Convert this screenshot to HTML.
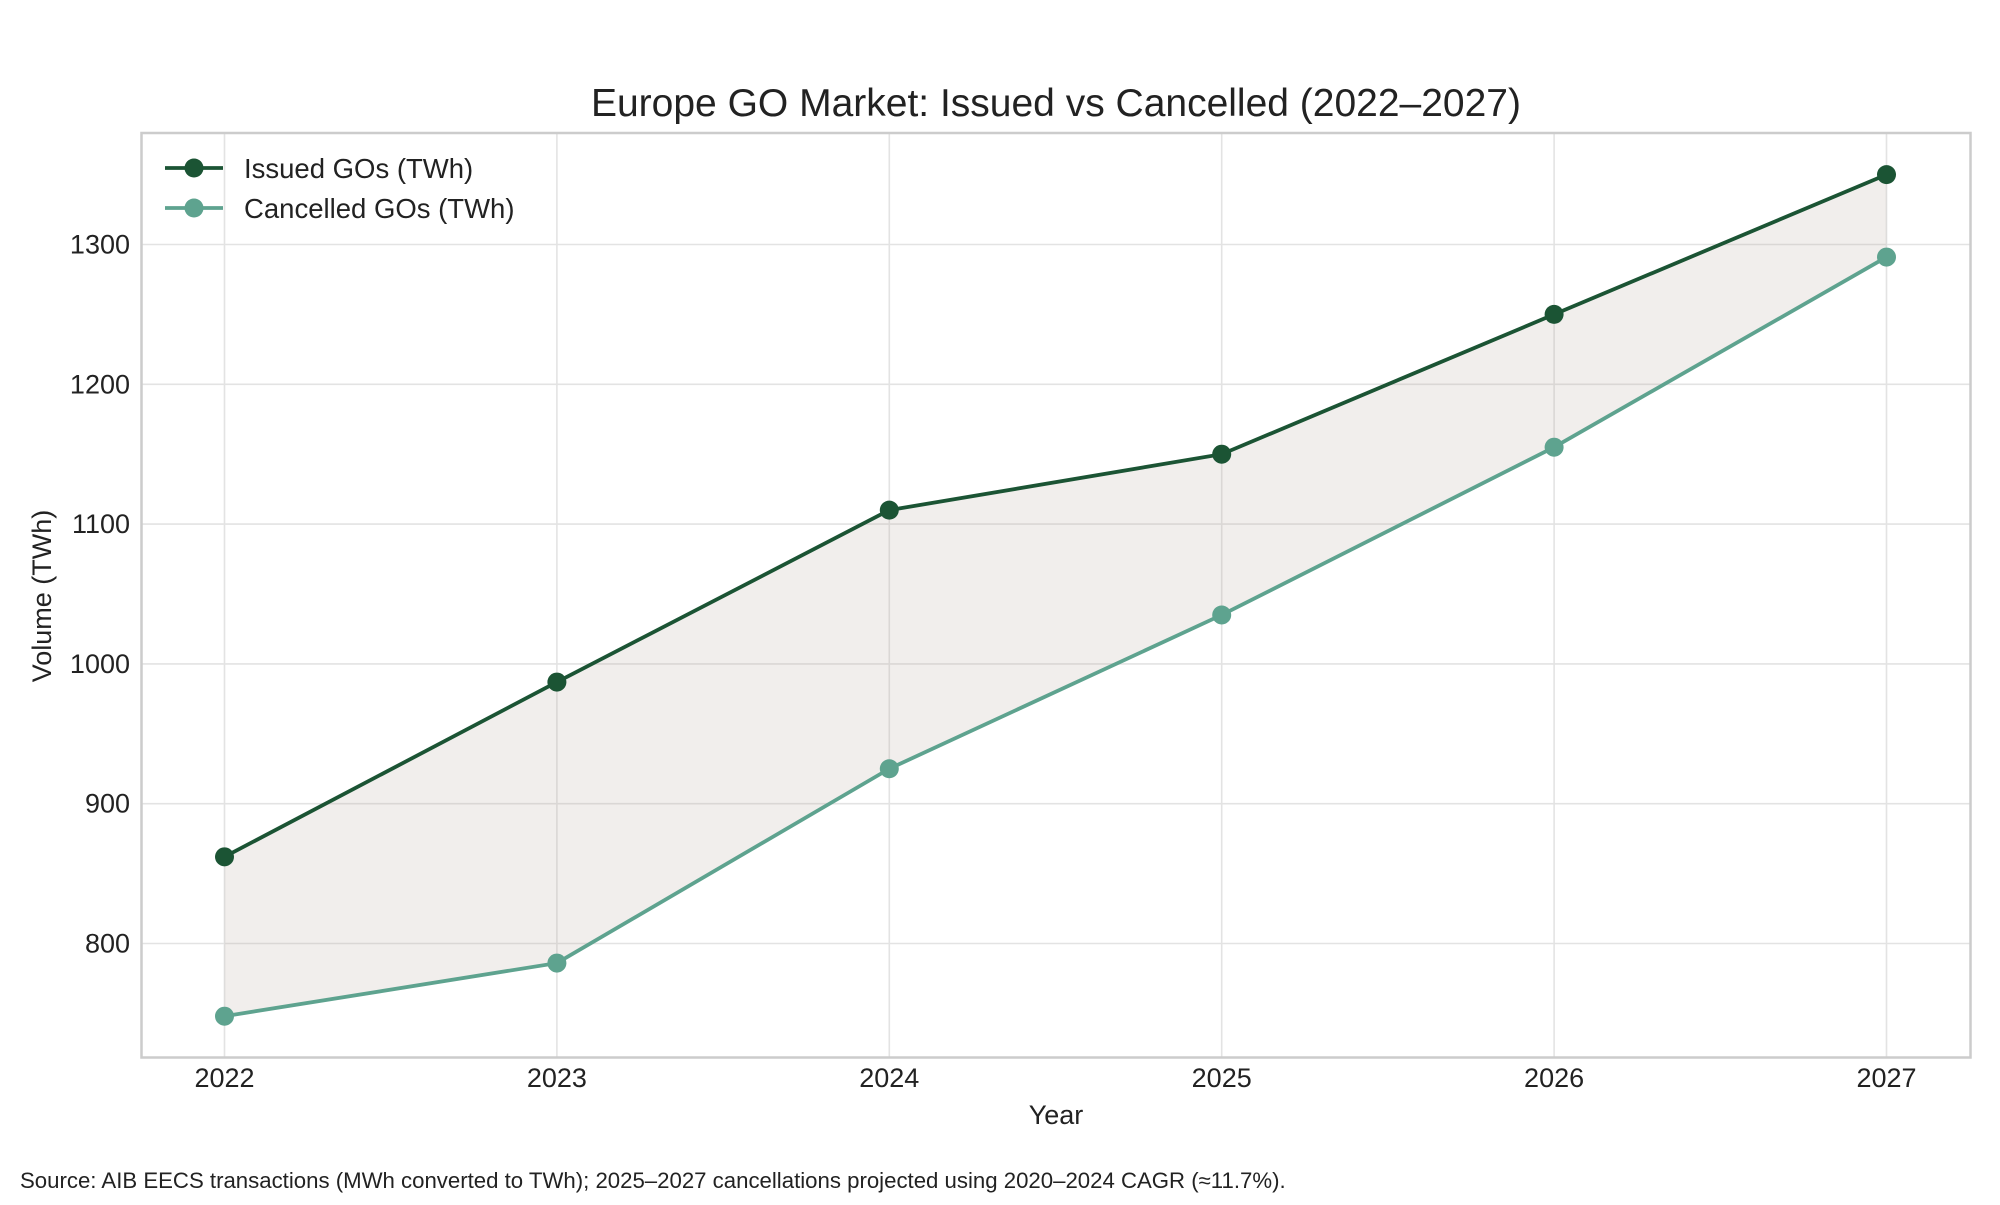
<!DOCTYPE html>
<html><head><meta charset="utf-8"><style>
body{margin:0;background:#fff;}
svg text{font-family:"Liberation Sans",sans-serif;}
</style></head><body>
<svg id="chart" width="2000" height="1200" viewBox="0 0 2000 1200" xmlns="http://www.w3.org/2000/svg">
<rect width="2000" height="1200" fill="#fff"/>
<text x="1056" y="116" font-size="39" text-anchor="middle" fill="#222">Europe GO Market: Issued vs Cancelled (2022–2027)</text>
<g id="grid"></g>
<g id="fill"></g>
<g id="series"></g>
<rect x="141.5" y="133" width="1829" height="924.5" fill="none" stroke="#cccccc" stroke-width="2.5"/>
<g id="ticks"></g>
<text x="1056" y="1124" font-size="27" text-anchor="middle" fill="#222">Year</text>
<text transform="translate(51,596) rotate(-90)" font-size="27" text-anchor="middle" fill="#222">Volume (TWh)</text>
<g>
<line x1="165" y1="168" x2="223" y2="168" stroke="#1b5434" stroke-width="3.8"/>
<circle cx="194" cy="168" r="9.5" fill="#1b5434"/>
<text x="244" y="178" font-size="27.5" fill="#222">Issued GOs (TWh)</text>
<line x1="165" y1="208" x2="223" y2="208" stroke="#5ea38f" stroke-width="3.8"/>
<circle cx="194" cy="208" r="9.5" fill="#5ea38f"/>
<text x="244" y="218" font-size="27.5" fill="#222">Cancelled GOs (TWh)</text>
</g>
<text x="20" y="1188" font-size="22.2" fill="#222">Source: AIB EECS transactions (MWh converted to TWh); 2025–2027 cancellations projected using 2020–2024 CAGR (≈11.7%).</text>
</svg>
<script>
const years=[2022,2023,2024,2025,2026,2027];
const issued=[862,987,1110,1150,1250,1350];
const cancelled=[748,786,925,1035,1155,1291];
const yTicks=[800,900,1000,1100,1200,1300];
const NS="http://www.w3.org/2000/svg";
function x(y){return 224.5+(y-2022)*332.4;}
function yv(v){return 244.5+(1300-v)*1.398;}
function mk(tag,attrs,parent){const e=document.createElementNS(NS,tag);for(const k in attrs)e.setAttribute(k,attrs[k]);document.getElementById(parent).appendChild(e);return e;}
yTicks.forEach(t=>{
 const l=mk('line',{x1:141.5,x2:1970.5,y1:yv(t),y2:yv(t),stroke:'#e3e3e3','stroke-width':1.6},'grid');
 
 
 const tx=mk('text',{x:130,y:yv(t)+9,'font-size':27,'text-anchor':'end',fill:'#222'},'ticks');
 tx.textContent=t;
 
 
});
years.forEach(yr=>{
 const l=mk('line',{x1:x(yr),x2:x(yr),y1:133,y2:1057,stroke:'#e3e3e3','stroke-width':1.6},'grid');
 
 
 const tx=mk('text',{x:x(yr),y:1087,'font-size':27,'text-anchor':'middle',fill:'#222'},'ticks');
 tx.textContent=yr;
 
 
});
let pts=years.map((yr,i)=>x(yr)+','+yv(issued[i]));
let pts2=years.map((yr,i)=>x(yr)+','+yv(cancelled[i])).reverse();
const f=mk('polygon',{points:pts.concat(pts2).join(' '),fill:'#b9a8a2','fill-opacity':0.2},'fill');


[[cancelled,'#5ea38f','cancelled'],[issued,'#1b5434','issued']].forEach(([d,c,n])=>{
 const p=mk('polyline',{points:years.map((yr,i)=>x(yr)+','+yv(d[i])).join(' '),fill:'none',stroke:c,'stroke-width':3.8},'series');
 
 
 years.forEach((yr,i)=>{
  const m=mk('circle',{cx:x(yr),cy:yv(d[i]),r:9.5,fill:c},'series');
  
  
 });
});
</script>
</body></html>
